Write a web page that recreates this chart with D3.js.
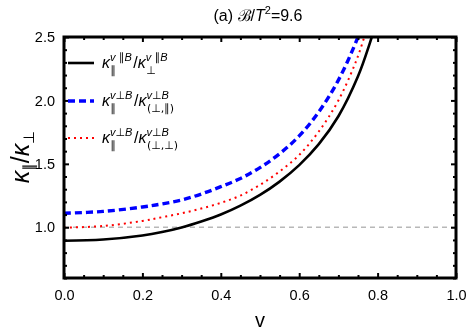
<!DOCTYPE html>
<html><head><meta charset="utf-8">
<script src="https://cdn.jsdelivr.net/npm/d3@7"></script>
<style>body{margin:0;background:#fff}svg{display:block;font-family:"Liberation Sans",Arial,sans-serif;opacity:0.999;will-change:transform}</style>
</head><body><svg id="c" width="468" height="331"></svg>
<script>
// Data
const vBlack = [0, 0.1, 0.2, 0.25, 0.3, 0.35, 0.4, 0.45, 0.5, 0.55, 0.6, 0.65, 0.7, 0.75, 0.78, 0.8];
const yBlack = [0.894, 0.903, 0.935, 0.962, 0.998, 1.045, 1.10, 1.17, 1.255, 1.36, 1.49, 1.655, 1.875, 2.19, 2.45, 2.65];
const vBlue = [0, 0.1, 0.2, 0.25, 0.3, 0.35, 0.4, 0.45, 0.5, 0.55, 0.6, 0.65, 0.7, 0.75, 0.77];
const yBlue = [1.11, 1.125, 1.16, 1.184, 1.215, 1.262, 1.32, 1.385, 1.47, 1.58, 1.72, 1.91, 2.16, 2.50, 2.68];
const vRed = [0, 0.1, 0.2, 0.25, 0.3, 0.35, 0.4, 0.45, 0.5, 0.55, 0.6, 0.65, 0.7, 0.75, 0.78];
const yRed = [0.997, 1.01, 1.05, 1.079, 1.11, 1.148, 1.192, 1.25, 1.334, 1.44, 1.57, 1.755, 2.00, 2.35, 2.65];
const refLine = 1.0;
const xTicks = [0, 0.2, 0.4, 0.6, 0.8, 1.0];
const yTicks = [1.0, 1.5, 2.0, 2.5];

const svg = d3.select("#c");
const L = 64, R = 456, T = 37, B = 278;
const x = d3.scaleLinear().domain([0, 1]).range([L, R]);
const y = d3.scaleLinear().domain([0.6, 2.5]).range([B, T]);

svg.append("clipPath").attr("id", "clip").append("rect")
  .attr("x", L).attr("y", T).attr("width", R - L).attr("height", B - T);

// reference line
svg.append("line").attr("x1", x(0)).attr("x2", x(1)).attr("y1", y(refLine)).attr("y2", y(refLine))
  .attr("stroke", "#b8b8b8").attr("stroke-width", 1.5).attr("stroke-dasharray", "5,4");

const line = d3.line().x(d => x(d[0])).y(d => y(d[1])).curve(d3.curveCatmullRom.alpha(0.5));
const gc = svg.append("g").attr("clip-path", "url(#clip)");
const series = [
  {v: vBlack, y: yBlack, color: "#000", w: 2.6, dash: null},
  {v: vBlue, y: yBlue, color: "#0000ff", w: 3.4, dash: "7,4"},
  {v: vRed, y: yRed, color: "#ff0000", w: 2, dash: "2,4"}
];
series.forEach(s => {
  gc.append("path").datum(s.v.map((v, i) => [v, s.y[i]]))
    .attr("d", line).attr("fill", "none").attr("stroke", s.color)
    .attr("stroke-width", s.w).attr("stroke-dasharray", s.dash);
});

// frame axes with inward ticks
const xMinor = d3.range(0, 1.0001, 0.05).filter(t => Math.abs(t * 5 - Math.round(t * 5)) > 1e-6);
const yMinor = d3.range(0.6, 2.5001, 0.1).filter(t => Math.abs(t * 2 - Math.round(t * 2)) > 1e-6);
function ticks(axisGen, tr, vals, size) {
  const g = svg.append("g").attr("transform", tr)
    .call(axisGen.tickValues(vals).tickSize(size).tickFormat(""));
  g.select(".domain").remove();
  g.selectAll("line").attr("stroke", "#000").attr("stroke-width", 2);
}
ticks(d3.axisTop(x), `translate(0,${B})`, xTicks, 5);
ticks(d3.axisTop(x), `translate(0,${B})`, xMinor, 3);
ticks(d3.axisBottom(x), `translate(0,${T})`, xTicks, 5);
ticks(d3.axisBottom(x), `translate(0,${T})`, xMinor, 3);
ticks(d3.axisRight(y), `translate(${L},0)`, yTicks, 5);
ticks(d3.axisRight(y), `translate(${L},0)`, yMinor, 3);
ticks(d3.axisLeft(y), `translate(${R},0)`, yTicks, 5);
ticks(d3.axisLeft(y), `translate(${R},0)`, yMinor, 3);

svg.append("rect").attr("x", L).attr("y", T).attr("width", R - L).attr("height", B - T)
  .attr("fill", "none").attr("stroke", "#000").attr("stroke-width", 3);

// tick labels
const xl = svg.append("g").attr("transform", `translate(0,${B + 6})`)
  .call(d3.axisBottom(x).tickValues(xTicks).tickSize(0).tickFormat(d3.format(".1f")));
xl.select(".domain").remove();
xl.selectAll("text").attr("font-size", 14.5).attr("font-family", "Liberation Sans, Arial").attr("fill", "#000").attr("dy", "0.9em");
const yl = svg.append("g").attr("transform", `translate(${L - 6},0)`)
  .call(d3.axisLeft(y).tickValues(yTicks).tickSize(0).tickFormat(d3.format(".1f")));
yl.select(".domain").remove();
yl.selectAll("text").attr("font-size", 14.5).attr("font-family", "Liberation Sans, Arial").attr("fill", "#000");

// title
const title = svg.append("text").attr("x", 258).attr("y", 21).attr("text-anchor", "middle")
  .attr("font-size", 16).attr("fill", "#000");
title.append("tspan").text("(a) ");
title.append("tspan").text("ℬ").attr("font-family", "DejaVu Serif");
title.append("tspan").text("/");
title.append("tspan").text("T").attr("font-style", "italic");
title.append("tspan").text("2").attr("font-size", 11).attr("dy", -7);
title.append("tspan").text("=9.6").attr("dy", 7);

// axis labels
svg.append("text").attr("x", x(0.5)).attr("y", 327).attr("text-anchor", "middle")
  .attr("font-size", 20).text("v");
const PAR = "∥";
const yLab = svg.append("text").attr("transform", "translate(29,157) rotate(-90)")
  .attr("text-anchor", "middle").attr("font-size", 25);
yLab.append("tspan").text("κ").attr("font-style", "italic");
yLab.append("tspan").text(PAR).attr("font-size", 15).attr("dy", 5).attr("font-family", "DejaVu Sans");
yLab.append("tspan").text("/").attr("dy", -5);
yLab.append("tspan").text("κ").attr("font-style", "italic");
yLab.append("tspan").text("⊥").attr("font-size", 15).attr("dy", 5);

// legend
function mathLabel(x0, yb, pieces) {
  let cx = x0;
  pieces.forEach(p => {
    const t = svg.append("text").attr("x", cx).attr("y", yb).attr("font-size", 16).text(p.base);
    if (p.italic) t.attr("font-style", "italic");
    cx += t.node().getComputedTextLength();
    let w = 0;
    if (p.sup) {
      const s = svg.append("text").attr("x", cx).attr("y", yb - 7).attr("font-size", 11);
      p.sup.forEach(q => {
        const ts = s.append("tspan").text(q[0]).attr("font-style", q[1] ? "italic" : "normal");
        if (!q[1]) ts.attr("font-family", "DejaVu Sans");
      });
      w = Math.max(w, s.node().getComputedTextLength());
    }
    if (p.sub) {
      const s = svg.append("text").attr("x", cx + 0.5).attr("y", yb + 6).attr("font-size", 11)
        .attr("font-family", "DejaVu Sans").text(p.sub);
      w = Math.max(w, s.node().getComputedTextLength() + 0.5);
    }
    cx += w + (p.sup ? 1.5 : 0);
  });
}
const supPar = [["v", true], [" " + PAR, false], ["B", true]];
const supPerp = [["v", true], ["⊥", false], ["B", true]];
const legend = [
  {color: "#000", w: 2.6, dash: null, yl: 63, pieces: [
    {base: "κ", italic: true, sup: supPar, sub: PAR}, {base: "/"}, {base: "κ", italic: true, sup: supPar, sub: "⊥"}]},
  {color: "#0000ff", w: 3.4, dash: "7,4", yl: 101, pieces: [
    {base: "κ", italic: true, sup: supPerp, sub: PAR}, {base: "/"}, {base: "κ", italic: true, sup: supPerp, sub: "(⊥,∥)"}]},
  {color: "#ff0000", w: 2, dash: "2,4", yl: 138, pieces: [
    {base: "κ", italic: true, sup: supPerp, sub: PAR}, {base: "/"}, {base: "κ", italic: true, sup: supPerp, sub: "(⊥,⊥)"}]}
];
legend.forEach(d => {
  svg.append("line").attr("x1", 68).attr("x2", 94).attr("y1", d.yl).attr("y2", d.yl)
    .attr("stroke", d.color).attr("stroke-width", d.w).attr("stroke-dasharray", d.dash);
  mathLabel(102, d.yl + 5, d.pieces);
});
</script></body></html>
